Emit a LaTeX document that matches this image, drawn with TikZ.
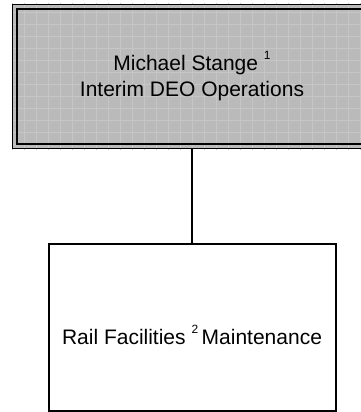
\documentclass[tikz,border=0pt]{standalone}
\usepackage{fontspec}
\setmainfont{Liberation Sans}
\definecolor{fillgray}{RGB}{186,186,186}
\definecolor{gridgray}{RGB}{198,198,198}
\begin{document}
\begin{tikzpicture}[x=1pt,y=-1pt,
  lbl/.style={font=\fontsize{21}{26}\selectfont, align=center, inner sep=0pt},
  boxline/.style={draw=black, line width=1.6pt}]
\useasboundingbox (0,0) rectangle (360,412);
% top box (double border, gray fill)
\fill[fillgray] (12,4) rectangle (372,149);
\begin{scope}
  \clip (12,4) rectangle (372,149);
  \draw[draw=gridgray, line width=0.4pt, xstep=12pt, ystep=12pt] (0,0) grid (372,150);
\end{scope}
\draw[boxline] (12.5,4.5) rectangle (372,148.5);
\draw[boxline] (17,9) rectangle (367,144);
\node[lbl] (top) at (192,76) {Michael Stange \raisebox{0.5em}{\fontsize{12}{12}\selectfont 1}\\Interim DEO Operations};
\coordinate (topb) at (192,149);
% bottom box
\draw[line width=1.4pt, fill=white] (49,244) rectangle (336,411);
\coordinate (bott) at (192,244);
\node[lbl] (bot) at (192,335) {Rail Facilities \raisebox{0.5em}{\fontsize{12}{12}\selectfont 2}\,Maintenance};
% connector
\draw[line width=1.2pt] (topb) -- (bott);
\end{tikzpicture}
\end{document}
